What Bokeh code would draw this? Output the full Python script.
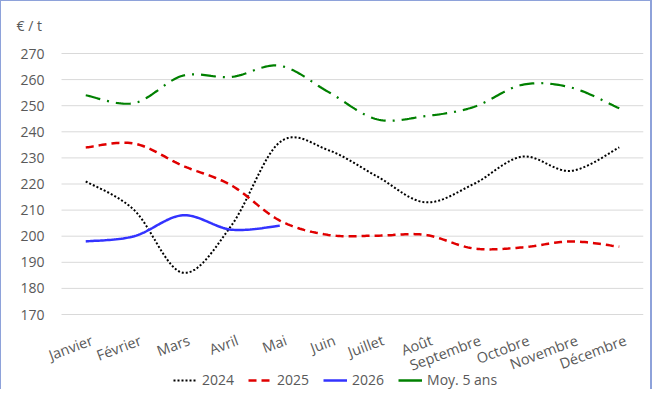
import numpy as np
from bokeh.plotting import figure
from bokeh.models import Legend, LegendItem, Range1d
from bokeh.core.properties import value
from bokeh.embed import file_html
from bokeh.resources import INLINE

months = ["Janvier", "Février", "Mars", "Avril", "Mai", "Juin", "Juillet", "Août",
          "Septembre", "Octobre", "Novembre", "Décembre"]
y2024 = [221, 210, 186, 204, 236, 233, 223, 213, 220, 230.5, 225, 234]
y2025 = [234, 235.5, 227, 219.5, 206, 200.5, 200.2, 200.5, 195.3, 195.7, 198, 196]
y2026 = [198, 200, 208, 202.5, 204]
ymoy = [254, 251, 261.5, 261, 265.3, 255.3, 244.8, 246, 249.5, 258, 257, 249]
yticks = [170, 180, 190, 200, 210, 220, 230, 240, 250, 260, 270]

FONT = "Open Sans"
GREY = "#595959"

# layout (pixels)
W, H = 652, 389
FRAME_L, RIGHT, FRAME_T = 14, 10, 40
GRID_TOP = 52               # where the 270 gridline sits
PLOT_L = 60                 # where the gridlines start
GRID_H = 261                # pixel height of the 170..270 band
Y0, Y1 = yticks[0], yticks[-1]
n = len(months)
cat_w = (W - RIGHT - PLOT_L) / n
x_start = -0.5 - (PLOT_L - FRAME_L) / cat_w
per_px = (Y1 - Y0) / GRID_H
y_start = Y0 - (H - GRID_TOP - GRID_H) * per_px
y_end = Y1 + (GRID_TOP - FRAME_T) * per_px


def smooth(vals, n=24):
    """Excel-like smoothed line: cubic Bezier with Catmull-Rom control points."""
    xs = list(range(len(vals)))
    pts = list(zip(xs, vals))
    outx, outy = [], []
    for i in range(len(pts) - 1):
        p0 = pts[i - 1] if i > 0 else pts[i]
        p1 = pts[i]
        p2 = pts[i + 1]
        p3 = pts[i + 2] if i + 2 < len(pts) else pts[i + 1]
        c1 = (p1[0] + (p2[0] - p0[0]) / 6, p1[1] + (p2[1] - p0[1]) / 6)
        c2 = (p2[0] - (p3[0] - p1[0]) / 6, p2[1] - (p3[1] - p1[1]) / 6)
        t = np.linspace(0, 1, n, endpoint=(i == len(pts) - 2))
        a = (1 - t) ** 3
        b = 3 * (1 - t) ** 2 * t
        c = 3 * (1 - t) * t ** 2
        d = t ** 3
        outx.extend(a * p1[0] + b * c1[0] + c * c2[0] + d * p2[0])
        outy.extend(a * p1[1] + b * c1[1] + c * c2[1] + d * p2[1])
    return outx, outy


p = figure(width=W, height=H, output_backend="svg", toolbar_location=None,
           x_range=Range1d(x_start, n - 0.5), y_range=Range1d(y_start, y_end),
           x_axis_location=None, y_axis_location=None,
           min_border_left=FRAME_L, min_border_right=RIGHT, min_border_top=FRAME_T,
           min_border_bottom=0, title="€ / t")
p.styles = {"border-left": "1px solid #8EA2DA", "border-top": "1px solid #8EA2DA",
            "border-right": "2px solid #8EA2DA"}
p.outline_line_color = None
p.background_fill_color = "white"
p.border_fill_color = "white"
p.grid.visible = False

p.title.align = "left"
p.title.offset = 1
p.title.standoff = 13
p.title.text_font = FONT
p.title.text_font_size = "14px"
p.title.text_font_style = "normal"
p.title.text_color = GREY

# horizontal gridlines and value labels
p.segment(x0=[-0.5] * len(yticks), x1=[n - 0.5] * len(yticks), y0=yticks, y1=yticks,
          line_color="#D9D9D9", line_width=1)
p.text(x=[-0.5] * len(yticks), y=yticks, text=[str(v) for v in yticks],
       x_offset=-17, text_align="right", text_baseline="middle",
       text_font=value(FONT), text_font_size="14px", text_color=GREY)

# month labels (category axis), rotated like the original
p.text(x=list(range(n)), y=[Y0] * n, text=months, angle=0.36,
       x_offset=3, y_offset=16, text_align="right", text_baseline="top",
       text_font=value(FONT), text_font_size="14.5px", text_color=GREY)

x, y = smooth(y2024)
r1 = p.line(x, y, line_color="black", line_width=2, line_dash="2 2")
x, y = smooth(y2025)
r2 = p.line(x, y, line_color="#E00000", line_width=2.5, line_dash="8 5")
x, y = smooth(y2026)
r3 = p.line(x, y, line_color="#3333FF", line_width=2.5)
x, y = smooth(ymoy)
r4 = p.line(x, y, line_color="#008000", line_width=2.2, line_dash="15 7 2 7")

# legend glyph for "Moy. 5 ans" is a short solid line (proxy renderer, nothing drawn)
leg4 = p.line([np.nan], [np.nan], line_color="#008000", line_width=2.5)

legend = Legend(items=[LegendItem(label="2024", renderers=[r1]),
                       LegendItem(label="2025", renderers=[r2]),
                       LegendItem(label="2026", renderers=[r3]),
                       LegendItem(label="Moy. 5 ans", renderers=[leg4])],
                orientation="horizontal", location=(172 - FRAME_L, 1),
                border_line_color=None, background_fill_alpha=0,
                label_text_font=FONT, label_text_font_size="14px",
                label_text_color=GREY, glyph_width=24, glyph_height=14,
                label_height=14, label_standoff=5, spacing=14, padding=0, margin=0)
p.add_layout(legend, "center")

open("out.html", "w").write(file_html(p, INLINE))
